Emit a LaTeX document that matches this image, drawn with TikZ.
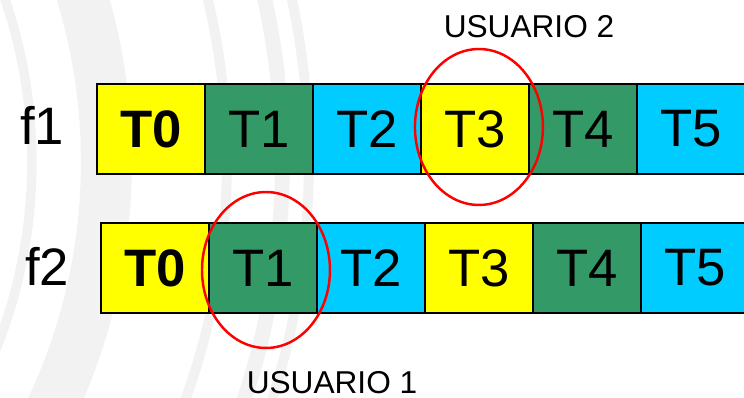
\documentclass[tikz,border=0pt]{standalone}
\usepackage{fontspec}
\setmainfont{Liberation Sans}
\usetikzlibrary{positioning}
\definecolor{slotyellow}{HTML}{FFFF00}
\definecolor{slotgreen}{HTML}{339966}
\definecolor{slotcyan}{HTML}{00CCFF}
\definecolor{wavegray}{HTML}{F2F2F2}
\begin{document}
\begin{tikzpicture}[x=0.02cm,y=-0.02cm]
	\tikzstyle{slot} = [rectangle,draw,line width=1.3pt,minimum width=2.16cm,minimum height=1.8cm,inner sep=0pt,outer sep=0pt,font=\fontsize{30}{36}\selectfont]
	\tikzstyle{boldslot} = [slot,font=\fontsize{30}{36}\selectfont\bfseries]
	\tikzstyle{freq} = [font=\fontsize{30}{36}\selectfont]
	\tikzstyle{user} = [inner sep=0.5pt,font=\fontsize{18}{22}\selectfont]
	\tikzstyle{ring} = [draw=red,line width=1.4pt]
	\tikzstyle{wave} = [draw=wavegray]
	\clip (0,0) rectangle (744,398);
	% faint background arcs
	\draw[wave,line width=0.19cm] (-472,162) circle[radius=10.08cm];
	\draw[wave,line width=1.02cm] (-472,162) circle[radius=11.57cm];
	\draw[wave,line width=0.2cm] (-472,162) circle[radius=13.98cm];
	\draw[wave,line width=0.3cm] (-472,162) circle[radius=15.09cm];
	\draw[wave,line width=0.2cm] (-472,162) circle[radius=15.62cm];
	% frequency f1
	\node[freq] (f1) at (42,125) {f1};
	\node[boldslot,fill=slotyellow] (a0) at (151,129) {T0};
	\node[slot,fill=slotgreen,right=0pt of a0] (a1) {T1};
	\node[slot,fill=slotcyan,right=0pt of a1] (a2) {T2};
	\node[slot,fill=slotyellow,right=0pt of a2] (a3) {T3};
	\node[slot,fill=slotgreen,right=0pt of a3] (a4) {T4};
	\node[slot,fill=slotcyan,right=0pt of a4] (a5) {T5};
	% frequency f2
	\node[freq] (f2) at (47,266) {f2};
	\node[boldslot,fill=slotyellow] (b0) at (155,268) {T0};
	\node[slot,fill=slotgreen,right=0pt of b0] (b1) {T1};
	\node[slot,fill=slotcyan,right=0pt of b1] (b2) {T2};
	\node[slot,fill=slotyellow,right=0pt of b2] (b3) {T3};
	\node[slot,fill=slotgreen,right=0pt of b3] (b4) {T4};
	\node[slot,fill=slotcyan,right=0pt of b4] (b5) {T5};
	% users
	\draw[ring] ([xshift=0.08cm,yshift=0.04cm]a3.center) ellipse [x radius=1.28cm,y radius=1.56cm];
	\draw[ring] ([xshift=0.06cm,yshift=-0.04cm]b1.center) ellipse [x radius=1.28cm,y radius=1.56cm];
	\node[user] (u2) at (529,27) {USUARIO 2};
	\node[user] (u1) at (332,383) {USUARIO 1};
\end{tikzpicture}
\end{document}
